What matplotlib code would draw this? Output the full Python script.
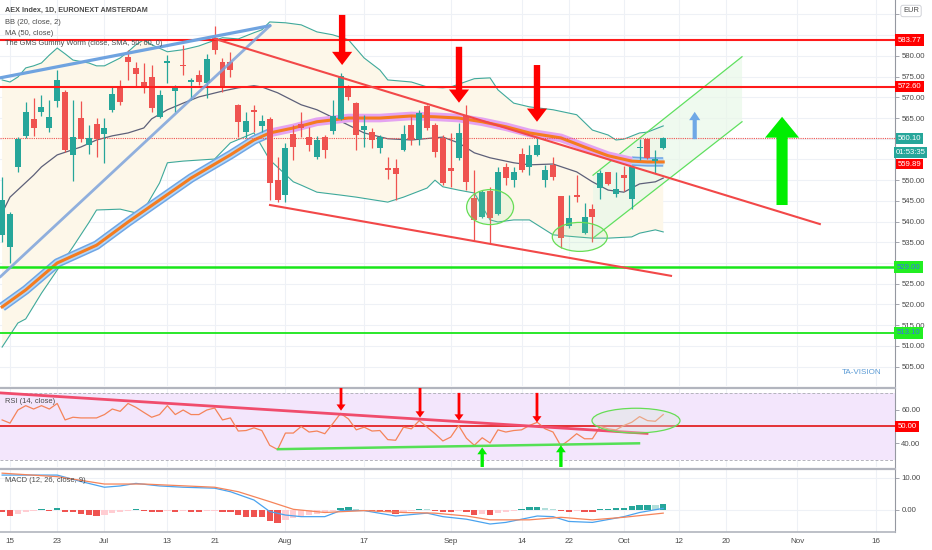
import numpy as np
import matplotlib
matplotlib.use('Agg')
import matplotlib.pyplot as plt
from matplotlib.patches import Ellipse
from matplotlib.transforms import blended_transform_factory

plt.rcParams['font.family'] = ['Liberation Sans', 'DejaVu Sans']

# ---------------- data ----------------
bar_index = list(range(-1, 84))
opens = [536.8, 533.9, 553.2, 560.7, 564.8, 566.5, 562.6, 569.1, 571.3, 556.1,
         565.0, 558.5, 563.6, 561.2, 567.0, 572.5, 579.8, 577.1, 573.7, 574.9,
         565.3, 578.3, 571.5, 577.8, 573.7, 575.4, 573.5, 584.3, 578.6, 578.6,
         568.2, 561.6, 567.0, 563.1, 564.8, 550.0, 546.4, 561.2, 563.5, 560.4,
         555.6, 560.4, 561.9, 564.8, 572.5, 568.6, 562.1, 561.6, 557.8, 552.9,
         552.9, 557.3, 563.3, 560.0, 567.9, 563.3, 560.2, 552.9, 555.4, 565.5,
         545.7, 541.1, 547.4, 541.8, 553.2, 550.0, 556.3, 553.2, 556.1, 550.0,
         553.7, 546.2, 538.9, 546.4, 537.2, 543.0, 548.1, 552.0, 546.7, 551.3,
         545.5, 557.8, 560.0, 554.6, 557.8]
closes = [545.2, 541.8, 560.0, 566.5, 562.6, 567.7, 565.3, 574.2, 557.3, 560.4,
          560.0, 560.2, 560.0, 562.6, 570.8, 568.9, 578.6, 575.7, 572.3, 567.4,
          570.6, 578.8, 572.5, 577.5, 574.2, 573.7, 579.3, 581.4, 572.8, 576.6,
          564.1, 564.3, 566.5, 564.3, 549.3, 545.2, 557.8, 558.0, 562.6, 558.5,
          559.7, 557.3, 565.5, 575.2, 570.1, 560.9, 563.1, 559.7, 560.4, 552.5,
          551.5, 561.2, 559.7, 566.2, 562.6, 556.8, 549.3, 552.2, 561.4, 549.6,
          540.4, 547.1, 540.9, 552.0, 550.5, 552.0, 552.5, 556.1, 558.5, 552.5,
          550.8, 536.0, 540.9, 545.9, 541.1, 541.1, 551.7, 549.1, 547.9, 550.5,
          553.2, 558.0, 555.4, 555.1, 560.1]
highs = [550.8, 542.3, 560.5, 568.9, 569.9, 570.6, 569.4, 576.6, 571.8, 569.4,
         569.1, 563.3, 565.0, 565.0, 572.8, 574.2, 581.4, 578.6, 578.3, 577.8,
         571.8, 580.2, 573.0, 582.7, 574.7, 576.6, 580.5, 587.2, 579.5, 581.0,
         568.4, 566.5, 568.2, 565.8, 565.3, 555.6, 559.0, 563.3, 566.5, 562.9,
         560.7, 560.9, 569.4, 575.9, 573.0, 568.9, 565.8, 562.6, 560.9, 555.6,
         555.1, 563.3, 565.5, 567.0, 568.2, 563.8, 560.9, 561.4, 563.8, 568.2,
         552.5, 547.6, 548.4, 553.2, 554.2, 553.2, 557.8, 558.5, 560.2, 553.7,
         555.6, 546.2, 546.4, 551.3, 544.5, 544.3, 552.5, 552.0, 552.0, 553.4,
         553.2, 560.0, 560.2, 557.3, 560.4]
lows = [535.1, 530.0, 552.0, 560.2, 560.7, 565.5, 561.6, 567.7, 556.8, 549.8,
        559.2, 556.3, 555.6, 554.2, 566.5, 568.2, 574.2, 572.5, 571.1, 566.5,
        565.0, 573.5, 566.5, 575.4, 569.4, 573.0, 569.9, 580.5, 571.3, 574.9,
        560.4, 560.2, 561.6, 561.6, 545.2, 544.8, 544.7, 554.9, 560.4, 557.1,
        555.1, 555.4, 561.2, 564.5, 569.4, 557.3, 558.0, 557.8, 556.6, 550.3,
        545.2, 557.1, 558.5, 558.5, 562.0, 555.6, 548.8, 548.4, 554.9, 547.6,
        535.6, 540.9, 534.8, 541.6, 548.8, 548.4, 552.0, 551.3, 555.8, 548.4,
        550.0, 533.6, 538.5, 544.7, 537.0, 535.1, 545.5, 548.8, 545.9, 547.4,
        543.0, 554.9, 555.1, 551.7, 557.5]

# Bollinger bands
bb_up_idx = [-1, 0, 1, 2, 3, 4, 5, 6, 7, 8, 10, 11, 12, 14, 15, 16, 17, 18, 20, 22, 24, 25, 27, 29,
             31, 32, 33, 35, 37, 39, 41, 43, 45, 47, 48, 51, 53, 55, 56, 59, 61, 62, 64, 66, 69,
             72, 74, 76, 77, 78, 80, 81, 83]
bb_up_val = [574.2, 573.7, 574.9, 577.1, 577.6, 578.3, 580.2, 581.9, 580.5, 579.0, 578.3, 577.6,
             577.6, 579.5, 581.0, 582.7, 583.9, 582.7, 581.0, 581.5, 582.4, 583.1, 584.4, 584.1,
             585.6, 586.3, 588.2, 588.0, 587.5, 585.8, 585.1, 583.9, 579.5, 576.6, 574.2, 573.7,
             572.5, 572.3, 572.5, 574.5, 574.7, 571.8, 568.6, 567.7, 567.0, 565.8, 562.1, 560.9,
             559.7, 559.9, 561.4, 561.6, 563.1]
bb_lo_idx = [-1, 1, 2, 4, 6, 8, 10, 11, 14, 16, 17, 19, 20, 22, 26, 28, 31, 33, 36, 37, 39, 42,
             44, 48, 50, 53, 54, 55, 57, 59, 61, 62, 64, 66, 69, 72, 74, 76, 79, 80, 82, 83]
bb_lo_val = [509.7, 515.5, 516.5, 522.7, 528.3, 533.9, 539.7, 542.8, 543.0, 542.1, 542.8, 549.3,
             554.2, 554.6, 555.1, 559.0, 561.4, 554.9, 549.6, 548.8, 547.1, 546.4, 545.9, 544.7,
             545.9, 548.1, 550.0, 548.4, 547.6, 546.9, 540.4, 539.9, 540.4, 540.4, 536.8, 536.3,
             536.0, 536.0, 536.3, 537.2, 538.0, 537.5]
basis_idx = [-1, 0, 3, 4, 6, 9, 11, 13, 15, 17, 18, 20, 22, 24, 27, 29, 31, 32, 34, 37, 39, 43,
             45, 48, 51, 55, 57, 59, 61, 64, 66, 69, 72, 74, 76, 78, 80, 82, 83]
basis_val = [542.1, 545.9, 551.2, 553.2, 556.1, 558.0, 559.7, 560.7, 561.4, 562.6, 564.8, 567.0,
             568.6, 570.1, 571.5, 572.3, 572.8, 572.5, 571.1, 568.2, 567.0, 563.3, 561.4, 560.0,
             559.7, 560.4, 559.0, 556.6, 555.4, 554.2, 553.7, 553.9, 552.0, 549.6, 547.6, 547.1,
             549.1, 549.6, 550.5]
worm_idx = [-1, 2, 6, 11, 15, 19, 23, 28, 31, 33, 36, 39, 43, 47, 51, 54, 57, 60, 63, 66, 70,
            73, 76, 79, 81, 83]
worm_val = [519.4, 523.5, 530.0, 534.3, 539.9, 545.2, 550.5, 556.1, 559.7, 561.4, 562.6, 564.1,
            565.0, 565.0, 565.5, 565.3, 565.0, 564.1, 562.9, 561.4, 560.2, 558.0, 555.9, 554.6,
            554.4, 554.4]

rsi = [53.9, 52.0, 59.8, 62.4, 60.4, 62.4, 60.4, 63.7, 53.9, 55.5, 55.1, 55.1, 55.1, 57.1, 60.4,
       59.0, 63.7, 61.4, 58.4, 55.5, 57.1, 62.4, 57.1, 59.8, 57.1, 57.1, 59.8, 61.0, 53.9, 55.1,
       47.3, 47.6, 49.2, 47.6, 38.8, 36.3, 46.1, 46.1, 50.0, 46.7, 47.3, 45.7, 51.6, 57.8, 54.5,
       48.0, 49.6, 47.3, 47.6, 42.2, 41.8, 49.6, 48.6, 53.5, 49.6, 45.7, 41.4, 43.7, 50.6, 43.0,
       38.8, 43.3, 40.2, 48.0, 46.7, 47.6, 48.0, 50.6, 52.5, 48.6, 46.7, 38.4, 41.8, 45.7, 42.7,
       42.7, 50.0, 48.6, 48.0, 50.6, 52.5, 55.9, 53.5, 53.1, 57.1]

macd_hist = [-0.8, -1.9, -1.2, -0.5, -0.3, 0.3, -0.2, 0.6, -0.5, -0.8, -1.4, -1.6, -1.9, -1.6,
             -1.0, -0.8, -0.3, 0.3, -0.3, -0.6, -0.8, -0.3, -0.5, -0.2, -0.6, -0.7, -0.4, -0.3,
             -0.7, -0.8, -1.6, -2.1, -2.1, -2.2, -3.6, -4.2, -3.3, -2.5, -2.0, -1.6, -1.2, -0.8,
             -0.4, 0.5, 0.8, 0.2, -0.2, -0.3, -0.5, -0.8, -1.2, -0.7, -0.4, 0.3, 0.2, -0.2, -0.6,
             -0.7, -0.3, -0.5, -1.6, -1.2, -1.6, -1.0, -0.6, -0.3, 0.3, 0.8, 1.0, 0.6, 0.3, -0.4,
             -0.7, -0.3, -0.6, -0.7, 0.2, 0.4, 0.6, 0.7, 1.1, 1.4, 1.6, 1.4, 2.0]
macd_idx = [-1, 6, 9, 12, 14, 16, 19, 22, 26, 28, 31, 33, 35, 37, 40, 42, 45, 49, 53, 55, 58,
            61, 63, 67, 69, 71, 74, 78, 80, 83]
macd_val = [10.9, 10.9, 8.9, 7.1, 7.5, 8.3, 7.5, 7.1, 6.8, 5.7, 3.1, -0.5, -1.6, -2.1, -2.1,
            -0.2, -0.2, -1.9, -1.0, -2.1, -2.9, -4.4, -3.9, -1.9, -2.1, -3.6, -3.9, -2.1, -0.8, 0.5]
sig_idx = [-1, 6, 12, 17, 26, 29, 33, 36, 40, 45, 50, 54, 58, 61, 66, 70, 74, 78, 83]
sig_val = [11.5, 10.4, 8.1, 8.1, 7.1, 5.7, 2.6, 0.2, -0.8, -0.2, -0.8, -1.0, -1.9, -3.1, -3.1,
           -2.3, -3.1, -2.3, -1.0]

xtick_pos = [0, 6, 12, 20, 26, 35, 45, 56, 65, 71, 78, 85, 91, 100, 110]
xtick_labels = ['15', '23', 'Jul', '13', '21', 'Aug', '17', 'Sep', '14', '22', 'Oct', '12', '20',
                'Nov', '16']

# drawings / annotations
res_levels = [583.77, 572.60]
sup_levels = [529.0, 513.1]
blue_line_hi = ([-1.27, 33.04], [574.7, 587.3])
blue_line_lo = ([-1.27, 33.04], [526.6, 587.3])
red_trend_hi = ([26.05, 102.9], [584.1, 539.4])
red_trend_lo = ([33.04, 83.99], [544.0, 526.9])
chan_lo = ([74.08, 93.01], [536.0, 564.1])
chan_hi = ([74.08, 93.01], [551.2, 579.8])
red_arrow_idx = [42.2, 57.05, 66.96]
red_arrow_top = [589.9, 582.2, 577.8]
red_arrow_tip = [577.8, 568.7, 564.1]
green_arrow = (98.1, 544.0, 565.3)
blue_arrow = (87.0, 559.9, 566.5)
ellipses_main = [(61.0, 543.5, 5.97, 8.45), (72.4, 536.3, 6.99, 7.0)]
rsi_red_line = ([-1.27, 80.94], [70.0, 45.9])
rsi_green_line = ([34.05, 79.92], [36.5, 40.0])
rsi_red_arrow_idx = [42.06, 52.1, 57.05, 66.96]
rsi_red_arrow_top = [72.9, 72.9, 70.0, 70.0]
rsi_red_arrow_tip = [59.4, 55.3, 53.5, 52.4]
rsi_green_arrow_idx = [60.0, 70.0]
rsi_green_arrow_tip = [37.6, 38.8]
rsi_ellipse = (79.54, 53.5, 11.18, 14.7)

GREEN = '#26a69a'
RED = '#ef5350'
XLIM = (-1.27, 112.45)

# ---------------- figure ----------------
W, H = 932, 550
fig = plt.figure(figsize=(W / 100, H / 100), dpi=100)
fig.patch.set_facecolor('white')
axw = 895 / W
ax = fig.add_axes([0, 1 - 386 / H, axw, 386 / H])
ax_r = fig.add_axes([0, 1 - 467 / H, axw, 79 / H])
ax_m = fig.add_axes([0, 1 - 532 / H, axw, 63 / H])

gridc = '#eef1f6'
for a in (ax, ax_r, ax_m):
    a.set_xlim(*XLIM)
    a.set_facecolor('white')
    for s in ('left', 'top', 'bottom'):
        a.spines[s].set_visible(False)
    a.spines['right'].set_color('#9598a1')
    a.spines['right'].set_linewidth(0.8)
    a.yaxis.tick_right()
    a.tick_params(axis='y', direction='out', length=3, width=0.6, colors='#9598a1',
                  labelcolor='#4a4a4a', labelsize=5.6, pad=1.5)
    a.set_xticks(xtick_pos)
    for xp in xtick_pos:
        a.axvline(xp, color=gridc, lw=0.8, zorder=0)
ax.tick_params(axis='x', length=0, labelbottom=False)
ax_r.tick_params(axis='x', length=0, labelbottom=False)
ax_m.tick_params(axis='x', length=0, labelsize=5.8, labelcolor='#4a4a4a', pad=4)
ax_m.set_xticklabels(xtick_labels)
for a in (ax_r, ax_m):
    a.spines['top'].set_visible(True)
    a.spines['top'].set_color('#b2b5be')
    a.spines['top'].set_linewidth(1.6)
ax_m.spines['bottom'].set_visible(True)
ax_m.spines['bottom'].set_color('#b2b5be')
ax_m.spines['bottom'].set_linewidth(1.2)

# ---------------- main pane ----------------
ax.set_ylim(500.3, 593.5)
pticks = list(range(505, 595, 5))
hidden = {530, 555, 560, 585, 590}   # covered by the price boxes in the reference
ax.set_yticks(pticks)
ax.set_yticklabels(['' if p in hidden else f'{p:.2f}' for p in pticks])
for p in pticks:
    ax.axhline(p, color=gridc, lw=0.8, zorder=0)

# Bollinger fill + lines
bx = np.concatenate([bb_up_idx, bb_lo_idx[::-1]])
by = np.concatenate([bb_up_val, bb_lo_val[::-1]])
ax.fill(bx, by, color='#fdf7e9', zorder=1, lw=0)
ax.plot(bb_up_idx, bb_up_val, color='#3fa99b', lw=0.8, zorder=2)
ax.plot(bb_lo_idx, bb_lo_val, color='#3fa99b', lw=0.8, zorder=2)
ax.plot(basis_idx, basis_val, color='#5d6079', lw=0.9, zorder=3)

# green channel
cx = chan_lo[0] + chan_hi[0][::-1]
cy = chan_lo[1] + chan_hi[1][::-1]
ax.fill(cx, cy, color='#e9f8e9', alpha=0.7, zorder=1, lw=0)
ax.plot(*chan_lo, color='#5fe05f', lw=0.9, zorder=3)
ax.plot(*chan_hi, color='#5fe05f', lw=0.9, zorder=3)

# worm
wi = np.array(worm_idx)
wv = np.array(worm_val)
m1 = wi <= 33
m2 = (wi >= 33) & (wi <= 79)
m3 = wi >= 79
for m in (m1, m3):
    ax.plot(wi[m], wv[m], color='#6ea6e6', lw=6.8, zorder=3, solid_capstyle='butt')
    ax.plot(wi[m], wv[m], color='#b5d6f6', lw=4.6, zorder=3, solid_capstyle='butt')
ax.plot(wi[m2], wv[m2], color='#e4a3f1', lw=6.2, zorder=3, solid_capstyle='butt')
ax.plot(wi, wv, color='#f57c1f', lw=2.2, zorder=3.5)

# candles
idx = np.array(bar_index)
o, h, l, c = map(np.array, (opens, highs, lows, closes))
cols = np.where(c >= o, GREEN, RED)
ax.vlines(idx, l, h, colors=cols, lw=0.9, zorder=5)
ax.bar(idx, np.maximum(np.abs(c - o), 0.25), bottom=np.minimum(o, c), width=0.76,
       color=cols, lw=0, zorder=6)

# horizontal levels
for lv in res_levels:
    ax.axhline(lv, color='#ff1a1a', lw=1.5, zorder=7)
for lv, w in zip(sup_levels, (1.8, 1.3)):
    ax.axhline(lv, color='#19e619', lw=w, zorder=7)
ax.axhline(closes[-1], color='#ef5350', lw=0.8, ls=(0, (1, 1)), zorder=4)

# trend lines
ax.plot(*blue_line_hi, color='#6fa3e0', lw=2.3, zorder=7, solid_capstyle='round')
ax.plot(*blue_line_lo, color='#7da3dc', lw=2.0, zorder=7, alpha=0.85, solid_capstyle='round')
ax.plot(*red_trend_hi, color='#f24848', lw=1.5, zorder=7)
ax.plot(*red_trend_lo, color='#f24848', lw=1.5, zorder=7)

for (ex, ey, ew, eh) in ellipses_main:
    ax.add_patch(Ellipse((ex, ey), ew, eh, facecolor=(0.6, 0.9, 0.6, 0.15),
                         edgecolor='#66dd55', lw=0.9, zorder=8))


def arrow(a, x, y0, y1, color, hw, hl, tw, z=9):
    a.annotate('', xy=(x, y1), xytext=(x, y0),
               arrowprops=dict(arrowstyle=f'simple,head_width={hw},head_length={hl},tail_width={tw}',
                               color=color, shrinkA=0, shrinkB=0, mutation_scale=1, lw=0),
               zorder=z, annotation_clip=False)


for xa, t0, t1 in zip(red_arrow_idx, red_arrow_top, red_arrow_tip):
    arrow(ax, xa, t0, t1, '#ff0000', 14.5, 9.5, 4.6)
arrow(ax, green_arrow[0], green_arrow[1], green_arrow[2], '#00ee00', 24.5, 15, 8)
arrow(ax, blue_arrow[0], blue_arrow[1], blue_arrow[2], '#6fa8e6', 8, 6, 3)

# legend texts
ax.text(0.006, 0.974, 'AEX Index, 1D, EURONEXT AMSTERDAM', transform=ax.transAxes,
        fontsize=5.2, color='#4a4a4a', fontweight='bold', va='center', zorder=10)
ax.text(0.006, 0.943, 'BB (20, close, 2)', transform=ax.transAxes, fontsize=5.4,
        color='#4a4a4a', va='center', zorder=10)
ax.text(0.006, 0.914, 'MA (50, close)', transform=ax.transAxes, fontsize=5.4,
        color='#4a4a4a', va='center', zorder=10)
ax.text(0.006, 0.887, 'The GMS Gummy Worm (close, SMA, 50, 60, 0)', transform=ax.transAxes,
        fontsize=5.3, color='#4a4a4a', va='center', zorder=10)
ax.text(0.963, 0.036, 'TA-VISION', transform=ax.transAxes, fontsize=5.8, color='#5b9bd5',
        ha='center', va='center', zorder=10)

# price axis boxes
tr = blended_transform_factory(ax.transAxes, ax.transData)


def box(a, trans, y, txt, fc, tc='white', x=1.003, fs=5.6, dy=0, pad=0.3):
    a.annotate(txt, xy=(x, y), xycoords=trans, xytext=(0, dy), textcoords='offset points',
               ha='left', va='center', fontsize=fs, color=tc, zorder=20, annotation_clip=False,
               bbox=dict(boxstyle=f'square,pad={pad}', fc=fc, ec='none'))


for lv in res_levels:
    box(ax, tr, lv, f'{lv:.2f}', '#ff0000')
box(ax, tr, closes[-1], f'{closes[-1]:.2f}', GREEN, pad=0.22)
box(ax, tr, closes[-1], '01:53:35', GREEN, dy=-10.3, x=1.0005, pad=0.22)
box(ax, tr, closes[-1], '559.89', '#ff0000', dy=-18.6, pad=0.22)
for lv in sup_levels:
    box(ax, tr, lv, f'{lv:.2f}', '#22ee22', tc='#3a6cf0', x=1.002)
fig.text(911 / W, 1 - 11 / H, 'EUR', fontsize=5.4, color='#4a4a4a', ha='center', va='center',
         bbox=dict(boxstyle='round,pad=0.3', fc='white', ec='#c8cad0', lw=0.6), zorder=20)

# ---------------- RSI pane ----------------
ax_r.set_ylim(25.9, 72.9)
ax_r.set_yticks([40, 50, 60])
ax_r.set_yticklabels(['40.00', '', '60.00'])
ax_r.axhspan(30, 70, color='#f3e6fc', zorder=0.5, lw=0)
for lv in (30, 70):
    ax_r.axhline(lv, color='#b4b4bc', lw=0.7, ls=(0, (3, 2)), zorder=1)
ax_r.axhline(50, color='#e00000', lw=1.1, zorder=3)
ax_r.plot(bar_index, rsi, color='#f5845a', lw=0.9, zorder=4)
ax_r.plot(*rsi_red_line, color='#f04c6c', lw=2.0, zorder=5)
ax_r.plot(*rsi_green_line, color='#55e055', lw=1.8, zorder=5)
ex, ey, ew, eh = rsi_ellipse
ax_r.add_patch(Ellipse((ex, ey), ew, eh, facecolor=(0.85, 0.9, 0.85, 0.35),
                       edgecolor='#66dd55', lw=0.9, zorder=6))
for xa, t0, t1 in zip(rsi_red_arrow_idx, rsi_red_arrow_top, rsi_red_arrow_tip):
    arrow(ax_r, xa, t0, t1, '#ff0000', 6.5, 4.5, 2.0)
for xa, t1 in zip(rsi_green_arrow_idx, rsi_green_arrow_tip):
    arrow(ax_r, xa, 25.9, t1, '#00ee00', 7, 5, 2.4)
ax_r.text(0.006, 0.83, 'RSI (14, close)', transform=ax_r.transAxes, fontsize=5.4,
          color='#4a4a4a', va='center', zorder=10)
trr = blended_transform_factory(ax_r.transAxes, ax_r.transData)
box(ax_r, trr, 50, '50.00', '#ff0000')

# ---------------- MACD pane ----------------
ax_m.set_ylim(-6.9, 12.8)
ax_m.set_yticks([0, 10])
ax_m.set_yticklabels(['0.00', '10.00'])
for lv in (0, 10):
    ax_m.axhline(lv, color=gridc, lw=0.8, zorder=0)
hv = np.array(macd_hist)
prev = np.concatenate([[hv[0]], hv[:-1]])
hcols = np.where(hv >= 0, np.where(hv >= prev, '#26a69a', '#b2dfdb'),
                 np.where(hv <= prev, '#ef5350', '#ffcdd2'))
ax_m.bar(bar_index, hv, width=0.8, color=hcols, lw=0, zorder=2)
ax_m.plot(macd_idx, macd_val, color='#4aa3ef', lw=0.9, zorder=3)
ax_m.plot(sig_idx, sig_val, color='#f5845a', lw=0.9, zorder=3)
ax_m.text(0.006, 0.82, 'MACD (12, 26, close, 9)', transform=ax_m.transAxes, fontsize=5.4,
          color='#4a4a4a', va='center', zorder=10)

fig.savefig('out.png', dpi=100)
